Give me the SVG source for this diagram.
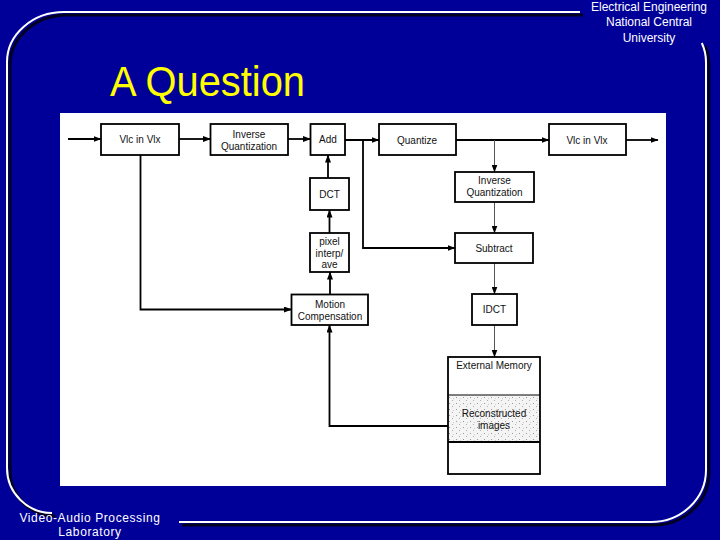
<svg xmlns="http://www.w3.org/2000/svg" width="720" height="540" viewBox="0 0 720 540">
<defs>
<style>
.frame{fill:none;stroke:#ffffff;stroke-width:2}
.shadow{fill:none;stroke:#000022;stroke-width:3}
.box{fill:#ffffff;stroke:#000000;stroke-width:1.8}
.lbl{font-family:"Liberation Sans",Arial,sans-serif;font-size:10px;fill:#111111;text-anchor:middle}
.hdr{font-family:"Liberation Sans",Arial,sans-serif;font-size:12px;fill:#ffffff;text-anchor:middle}
.thick{fill:none;stroke:#000000;stroke-width:1.8}
.thin{fill:none;stroke:#555555;stroke-width:1}
</style>
<marker id="ah" markerWidth="8" markerHeight="6" refX="7.5" refY="3" orient="auto" markerUnits="userSpaceOnUse">
<path d="M0,0 L8,3 L0,6 Z" fill="#000000"/>
</marker>
<pattern id="stip" width="7" height="6" patternUnits="userSpaceOnUse">
<rect width="7" height="6" fill="#f4f4f4"/>
<rect x="1" y="1" width="1" height="1" fill="#999999"/>
<rect x="4" y="4" width="1" height="1" fill="#b0b0b0"/>
<rect x="5" y="2" width="1" height="1" fill="#cccccc"/>
</pattern>
</defs>
<rect x="0" y="0" width="720" height="540" fill="#000099"/>
<g id="frame">
<g transform="translate(3,3)">
<path class="shadow" d="M 580 12 H 64 A 57 50 0 0 0 7 62 V 468 A 45 45 0 0 0 52 513"/>
<path class="shadow" d="M 179 522 H 651 A 55 52 0 0 0 706 470 V 62 A 56 50 0 0 0 701.8 43"/>
</g>
<path class="frame" d="M 580 12 H 64 A 57 50 0 0 0 7 62 V 468 A 45 45 0 0 0 52 513"/>
<path class="frame" d="M 179 522 H 651 A 55 52 0 0 0 706 470 V 62 A 56 50 0 0 0 701.8 43"/>
</g>
<g id="header">
<text class="hdr" x="649" y="11">Electrical Engineering</text>
<text class="hdr" x="649" y="26">National Central</text>
<text class="hdr" x="649" y="42">University</text>
</g>
<g id="footer">
<text class="hdr" x="90" y="522" letter-spacing="0.6">Video-Audio Processing</text>
<text class="hdr" x="90" y="536" letter-spacing="0.6">Laboratory</text>
</g>
<text id="title" x="110" y="96" font-family="'Liberation Sans',Arial,sans-serif" font-size="42" fill="#ffff00" textLength="195" lengthAdjust="spacingAndGlyphs">A Question</text>
<rect id="canvas" x="60" y="113" width="606" height="373" fill="#ffffff"/>
<g id="connectors">
<path class="thick" d="M 68 139 H 101" marker-end="url(#ah)"/>
<path class="thick" d="M 179 139 H 210.5" marker-end="url(#ah)"/>
<path class="thick" d="M 288 139 H 310.5" marker-end="url(#ah)"/>
<path class="thick" d="M 345 140 H 379" marker-end="url(#ah)"/>
<path class="thick" d="M 456 140 H 549" marker-end="url(#ah)"/>
<path class="thick" d="M 626 140 H 658" marker-end="url(#ah)"/>
<path class="thin" d="M 494.5 140 V 172" marker-end="url(#ah)"/>
<path class="thick" d="M 363 140 V 248 H 455" marker-end="url(#ah)"/>
<path class="thin" d="M 494.5 202 V 233" marker-end="url(#ah)"/>
<path class="thin" d="M 494.5 263 V 294" marker-end="url(#ah)"/>
<path class="thin" d="M 494.5 325 V 357" marker-end="url(#ah)"/>
<path class="thick" d="M 448 426 H 329.5 V 325" marker-end="url(#ah)"/>
<path class="thick" d="M 140.5 155 V 309.5 H 291.5" marker-end="url(#ah)"/>
<path class="thick" d="M 330 295 V 272" marker-end="url(#ah)"/>
<path class="thick" d="M 329.5 233 V 210" marker-end="url(#ah)"/>
<path class="thick" d="M 328 178 V 155" marker-end="url(#ah)"/>
</g>
<g id="vlc-in">
<rect class="box" x="101" y="124" width="78" height="31"/>
<text class="lbl" x="140" y="143">Vlc in Vlx</text>
</g>
<g id="inv-quant-1">
<rect class="box" x="210.5" y="124" width="77.5" height="31"/>
<text class="lbl" x="249" y="137.5">Inverse</text>
<text class="lbl" x="249" y="149.5">Quantization</text>
</g>
<g id="add">
<rect class="box" x="310.5" y="124" width="34.5" height="31"/>
<text class="lbl" x="328" y="143">Add</text>
</g>
<g id="quantize">
<rect class="box" x="379" y="124" width="77" height="31"/>
<text class="lbl" x="417" y="143.5">Quantize</text>
</g>
<g id="vlc-out">
<rect class="box" x="549" y="124" width="77" height="31"/>
<text class="lbl" x="587" y="143.5">Vlc in Vlx</text>
</g>
<g id="dct">
<rect class="box" x="310" y="178" width="39" height="32"/>
<text class="lbl" x="329.5" y="197.5">DCT</text>
</g>
<g id="inv-quant-2">
<rect class="box" x="455" y="172" width="79" height="30"/>
<text class="lbl" x="494.5" y="183.5">Inverse</text>
<text class="lbl" x="494.5" y="195.5">Quantization</text>
</g>
<g id="pixel-interp">
<rect class="box" x="310" y="233" width="39" height="39"/>
<text class="lbl" x="329.5" y="244.5">pixel</text>
<text class="lbl" x="329.5" y="256.5">interp/</text>
<text class="lbl" x="329.5" y="268">ave</text>
</g>
<g id="subtract">
<rect class="box" x="455" y="233" width="78" height="30"/>
<text class="lbl" x="494" y="251.5">Subtract</text>
</g>
<g id="motion-comp">
<rect class="box" x="291.5" y="294.5" width="76.5" height="30.5"/>
<text class="lbl" x="330" y="307.5">Motion</text>
<text class="lbl" x="330" y="320">Compensation</text>
</g>
<g id="idct">
<rect class="box" x="472" y="294" width="45" height="31"/>
<text class="lbl" x="494.5" y="313">IDCT</text>
</g>
<g id="external-memory">
<rect class="box" x="448" y="357" width="92" height="117"/>
<rect x="449" y="395" width="90" height="47" fill="url(#stip)"/>
<line x1="448" y1="395" x2="540" y2="395" stroke="#000000" stroke-width="1"/>
<line x1="448" y1="442" x2="540" y2="442" stroke="#000000" stroke-width="1.8"/>
<text class="lbl" x="494" y="368.5">External Memory</text>
<text class="lbl" x="494" y="416.5">Reconstructed</text>
<text class="lbl" x="494" y="428.5">images</text>
</g>
</svg>
